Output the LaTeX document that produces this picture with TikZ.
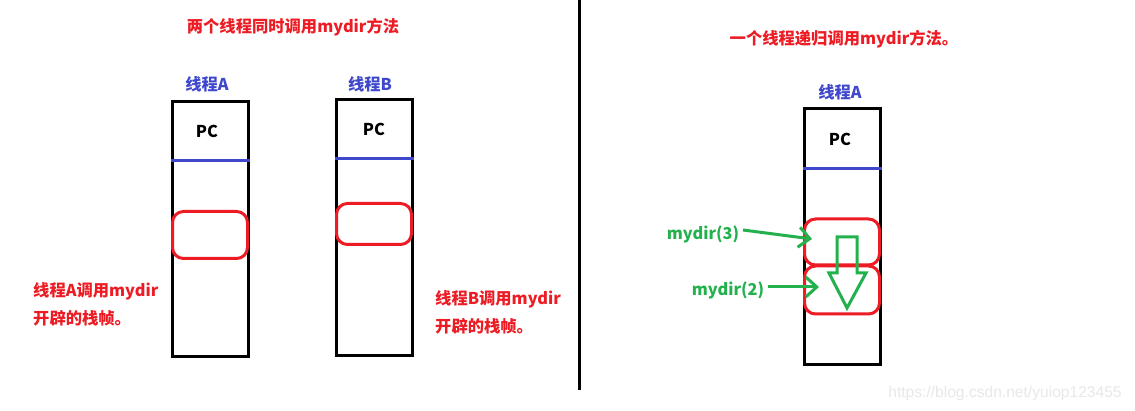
\documentclass[tikz,border=0pt]{standalone}
\usepackage{fontspec}
\setmainfont{Noto Sans CJK SC}
\newfontfamily\wmfont{Liberation Sans}
\usetikzlibrary{arrows.meta}
\definecolor{pred}{HTML}{ED1C24}
\definecolor{pblue}{HTML}{3F48CC}
\definecolor{pgreen}{HTML}{22B14C}
\definecolor{wmgray}{HTML}{E8E8E8}
\tikzset{
  txt/.style={font=\bfseries\fontsize{16.3}{18}\selectfont, inner sep=0pt},
  redtxt/.style={txt, text=pred},
  bluetxt/.style={txt, text=pblue},
  greentxt/.style={txt, text=pgreen},
  stackbox/.style={draw=black, line width=3pt, minimum width=76pt, inner sep=0pt},
  pcline/.style={draw=pblue, line width=3pt},
  frame/.style={draw=pred, line width=3pt, rounded corners=11pt, minimum width=75pt, inner sep=0pt},
  callarrow/.style={draw=pgreen, line width=3pt, -{Straight Barb[length=11pt,width=20pt,line width=3pt]}},
}
\begin{document}
\begin{tikzpicture}[x=1pt,y=-1pt]
\useasboundingbox[fill=white] (0,0) rectangle (1135,411);
% divider
\coordinate (dtop) at (579,0);
\coordinate (dbot) at (579,390);
\draw[line width=3pt] (dtop) -- (dbot);
% titles
\node[redtxt] (t1) at (293,27) {两个线程同时调用mydir方法};
\node[redtxt] (t2) at (844,39) {一个线程递归调用mydir方法。};
% ---- thread A (left)
\node[bluetxt] (la) at (207,84) {线程A};
\node[stackbox, minimum height=255pt] (sa) at (210,229) {};
\draw[pcline] (sa.west |- 0,161) -- (sa.east |- 0,161);
\node[txt] (pca) at (207,131) {PC};
\node[frame, minimum height=47pt] (fa) at (210,235) {};
\node[redtxt, anchor=west, align=left, font=\bfseries\fontsize{16.3}{28}\selectfont] (ta) at (33,304) {线程A调用mydir\\开辟的栈帧。};
% ---- thread B
\node[bluetxt] (lb) at (370,84) {线程B};
\node[stackbox, minimum height=256pt] (sb) at (374,228) {};
\draw[pcline] (sb.west |- 0,159) -- (sb.east |- 0,159);
\node[txt] (pcb) at (374,129) {PC};
\node[frame, minimum height=41pt] (fb) at (374,224) {};
\node[redtxt, anchor=west, align=left, font=\bfseries\fontsize{16.3}{28}\selectfont] (tb) at (435,312) {线程B调用mydir\\开辟的栈帧。};
% ---- thread A (right, recursion)
\node[bluetxt] (lr) at (840,92) {线程A};
\node[stackbox, minimum height=256pt] (sr) at (842,237) {};
\draw[pcline] (sr.west |- 0,169) -- (sr.east |- 0,169);
\node[txt] (pcr) at (840,139) {PC};
\node[frame, minimum height=46pt] (f3) at (842,242) {};
\node[frame, minimum height=48pt] (f2) at (842,290) {};
% hollow down arrow
\draw[pgreen, line width=3pt, line join=miter]
  (837,237) -- (857,237) -- (857,273) -- (866,273) -- (847,308) -- (829,273) -- (837,273) -- cycle;
% labels with arrows
\node[greentxt] (m3) at (703,234) {mydir(3)};
\node[greentxt] (m2) at (728,290) {mydir(2)};
\coordinate (m3s) at (743,230);
\coordinate (m3e) at (812,239);
\coordinate (m2s) at (768,287);
\coordinate (m2e) at (819,287);
\draw[callarrow] (m3s) -- (m3e);
\draw[callarrow] (m2s) -- (m2e);
% watermark
\node[font=\wmfont\fontsize{15.6}{17}\selectfont, text=wmgray, inner sep=0pt] (wm) at (1005,393) {https://blog.csdn.net/yuiop123455};
\end{tikzpicture}
\end{document}
